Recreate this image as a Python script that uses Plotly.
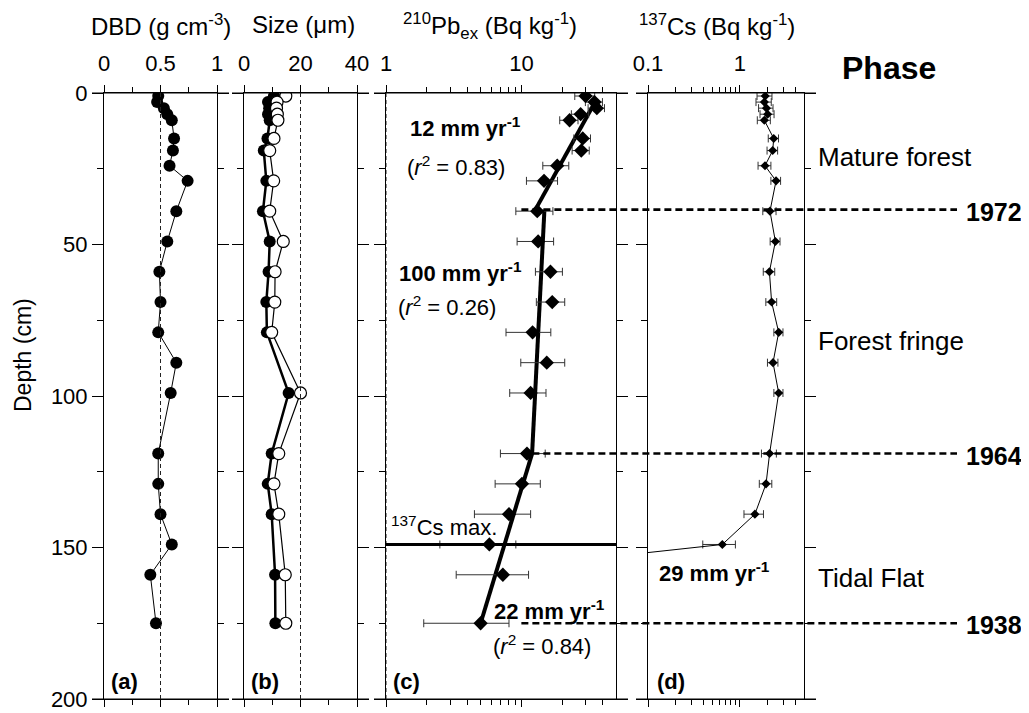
import numpy as np
import plotly.graph_objects as go

# ---------------- data ----------------
dbd_depth = [1, 3, 5, 7, 9, 15, 19, 24, 29, 39, 49, 59, 69, 79, 89, 99, 119, 129, 139, 149, 159, 175]
dbd_value = [0.48, 0.47, 0.53, 0.56, 0.60, 0.62, 0.61, 0.58, 0.74, 0.64, 0.56, 0.49, 0.50, 0.48, 0.64,
             0.59, 0.48, 0.48, 0.50, 0.60, 0.41, 0.46]

size_depth = [1, 3, 5, 7, 9, 15, 19, 29, 39, 49, 59, 69, 79, 99, 119, 129, 139, 159, 175]
size_filled = [10.6, 8.5, 8.9, 8.5, 9.1, 8.3, 7.0, 7.9, 6.7, 9.1, 8.7, 7.9, 8.1, 15.8, 9.8, 8.4, 9.8, 11.0, 11.1]
size_open = [14.8, 11.7, 11.5, 11.8, 12.0, 10.6, 9.1, 10.5, 9.1, 13.9, 11.0, 10.9, 9.8, 20.0, 12.3, 10.6, 12.3, 14.6, 14.8]

pb_depth = [1, 3, 5, 7, 9, 15, 19, 24, 29, 39, 49, 59, 69, 79, 89, 99, 119, 129, 139, 149, 159, 175]
pb_value = [29.8, 34.7, 36.1, 27.4, 22.7, 28.4, 27.7, 18.4, 14.7, 13.1, 13.3, 16.4, 16.9, 12.1, 15.4,
            11.7, 11.0, 10.1, 8.1, 5.8, 7.3, 5.0]
pb_error = [5, 5, 5, 4, 3.5, 4, 4, 4, 3.8, 4, 4, 3.7, 4, 4.4, 5.5, 3.5, 4, 3.7, 3.6, 3.3, 4, 3.1]

# regression segments for 210Pb_ex
fit1_depth, fit1_value = [3, 38.5], [35.0, 12.7]
fit2_depth, fit2_value = [38.5, 119], [14.8, 12.0]
fit3_depth, fit3_value = [119, 175], [12.0, 5.0]

cs_depth = [1, 3, 5, 7, 9, 15, 19, 24, 29, 39, 49, 59, 69, 79, 89, 99, 119, 129, 139, 149, 160]
cs_value = [1.89, 1.85, 1.95, 2.01, 1.85, 2.34, 2.28, 1.88, 2.48, 2.13, 2.44, 2.10, 2.22, 2.65, 2.30,
            2.65, 2.11, 1.93, 1.46, 0.645, 0.0003]
cs_error = [0.35, 0.35, 0.35, 0.35, 0.3, 0.3, 0.3, 0.3, 0.3, 0.35, 0.3, 0.3, 0.3, 0.3, 0.3,
            0.3, 0.39, 0.3, 0.35, 0.25, 0]

cs_max_depth = 149
date_depths = [38.5, 119, 175]
date_labels = ["1972", "1964", "1938"]
phase_labels = ["Mature forest", "Forest fringe", "Tidal Flat"]
phase_depths = [21, 82, 160]

ref_a, ref_b, ref_c, ref_d = 0.5, 20, 10, 1

# ---------------- layout geometry (window pixels) ----------------
OFF = 8                      # page body margin
W, H = 1029 - OFF, 713 - OFF  # figure size
TOP, BOT = 93, 699            # window y of depth 0 / depth 200
FONT = "Liberation Sans, Arial, sans-serif"
panels = [(104, 217), (244, 357), (386, 616), (648, 804)]


def px(x):
    return (x - OFF) / W


def py(y):
    return (BOT - y) / (BOT - TOP)


fig = go.Figure()

# (a) DBD
fig.add_trace(go.Scatter(x=dbd_value, y=dbd_depth, mode="lines+markers", xaxis="x", yaxis="y",
                         line=dict(color="black", width=1),
                         marker=dict(symbol="circle", size=12, color="black")))
# (b) grain size
fig.add_trace(go.Scatter(x=size_filled, y=size_depth, mode="lines+markers", xaxis="x2", yaxis="y2",
                         line=dict(color="black", width=2.5),
                         marker=dict(symbol="circle", size=12, color="black")))
fig.add_trace(go.Scatter(x=size_open, y=size_depth, mode="lines+markers", xaxis="x2", yaxis="y2",
                         line=dict(color="black", width=1.2),
                         marker=dict(symbol="circle", size=12, color="white",
                                     line=dict(color="black", width=1.2))))
# (c) 210Pb
for fd, fv in [(fit1_depth, fit1_value), (fit2_depth, fit2_value), (fit3_depth, fit3_value)]:
    fig.add_trace(go.Scatter(x=fv, y=fd, mode="lines", xaxis="x3", yaxis="y3",
                             line=dict(color="black", width=4)))
fig.add_trace(go.Scatter(x=pb_value, y=pb_depth, mode="markers", xaxis="x3", yaxis="y3",
                         marker=dict(symbol="diamond", size=11, color="black"),
                         error_x=dict(type="data", array=pb_error, color="#333333", thickness=1, width=4)))
# (d) 137Cs
fig.add_trace(go.Scatter(x=cs_value, y=cs_depth, mode="lines+markers", xaxis="x4", yaxis="y4",
                         line=dict(color="black", width=1),
                         marker=dict(symbol="diamond", size=7, color="black"),
                         error_x=dict(type="data", array=cs_error, color="#333333", thickness=1, width=4)))

tickfont = dict(family=FONT, size=22, color="black")


def xax(i, rng, tickvals, ticktext, minor_vals, log=False):
    d = dict(domain=[px(panels[i][0]), px(panels[i][1])], range=rng, side="top",
             anchor="y" if i == 0 else "y%d" % (i + 1), automargin=False,
             showline=True, linecolor="black", linewidth=1, mirror="ticks",
             showgrid=False, zeroline=False, ticks="outside", ticklen=7, tickwidth=1,
             tickcolor="black", tickvals=tickvals, ticktext=ticktext, tickfont=tickfont,
             ticklabelstandoff=5,
             minor=dict(tickvals=minor_vals, ticks="outside", ticklen=5, tickcolor="black",
                        tickwidth=1, showgrid=False))
    if log:
        d["type"] = "log"
    return d


def yax(i):
    return dict(domain=[0, 1], range=[200, 0], anchor="x" if i == 0 else "x%d" % (i + 1),
                automargin=False,
                showline=True, linecolor="black", linewidth=1, mirror="ticks",
                showgrid=False, zeroline=False, ticks="outside", ticklen=11, tickwidth=1,
                tickcolor="black", tickvals=[0, 50, 100, 150, 200], tickfont=tickfont,
                showticklabels=(i == 0),
                minor=dict(tickvals=[25, 75, 125, 175], ticks="outside", ticklen=6,
                           tickcolor="black", tickwidth=1, showgrid=False))


layout = dict(
    template="none",
    width=W, height=H, margin=dict(l=0, r=0, t=TOP - OFF, b=H - (BOT - OFF), autoexpand=False),
    plot_bgcolor="white", paper_bgcolor="white", showlegend=False,
    font=dict(family=FONT, size=22, color="black"),
    xaxis=xax(0, [0, 1], [0, 0.5, 1], ["0", "0.5", "1"], [0.25, 0.75]),
    xaxis2=xax(1, [0, 40], [0, 20, 40], ["0", "20", "40"], [10, 30]),
    xaxis3=xax(2, [0, np.log10(50)], [1, 10], ["1", "10"],
               [2, 3, 4, 5, 6, 7, 8, 9, 20, 30, 40], log=True),
    xaxis4=xax(3, [-1, np.log10(5)], [0.1, 1], ["0.1", "1"],
               [0.2, 0.3, 0.4, 0.5, 0.6, 0.7, 0.8, 0.9, 2, 3, 4], log=True),
    yaxis=yax(0), yaxis2=yax(1), yaxis3=yax(2), yaxis4=yax(3),
)
fig.update_layout(**layout)

shapes = []
# extended top/bottom axis lines
for (l, r) in panels:
    for yy in (0, 1):
        shapes.append(dict(type="line", xref="paper", yref="paper", x0=px(l - 12), x1=px(r + 12),
                           y0=yy, y1=yy, line=dict(color="black", width=1)))
# dotted reference lines
for xr, yr, v in [("x", "y", ref_a), ("x2", "y2", ref_b), ("x3", "y3", np.log10(ref_c)),
                  ("x4", "y4", np.log10(ref_d))]:
    shapes.append(dict(type="line", xref=xr, yref=yr + " domain", x0=v, x1=v, y0=0, y1=1,
                       line=dict(color="#222222", width=1, dash="4px,3px")))
# 137Cs max line
shapes.append(dict(type="line", xref="x3 domain", yref="y3", x0=0, x1=1, y0=cs_max_depth, y1=cs_max_depth,
                   line=dict(color="black", width=3)))
# date lines
c_left, c_right = panels[2]
x_start = c_left + (np.log10(ref_c) - 0) / np.log10(50) * (c_right - c_left)
for d in date_depths:
    shapes.append(dict(type="line", xref="paper", yref="paper", x0=px(x_start), x1=px(957),
                       y0=1 - d / 200, y1=1 - d / 200,
                       line=dict(color="black", width=2.6, dash="7px,4px")))
fig.update_layout(shapes=shapes)


def ann(text, x, y, size=22, bold=False, xanchor="left", angle=0):
    if bold:
        text = "<b>" + text + "</b>"
    fig.add_annotation(text=text, x=px(x), y=py(y), xref="paper", yref="paper", showarrow=False,
                       xanchor=xanchor, yanchor="middle", textangle=angle,
                       font=dict(family=FONT, size=size, color="black"))


# titles
ann("DBD (g cm<sup>-3</sup>)", 161, 25, size=24, xanchor="center")
ann("Size (μm)", 303, 25, size=24, xanchor="center")
ann("<sup>210</sup>Pb<sub>ex</sub> (Bq kg<sup>-1</sup>)", 490, 26, size=24, xanchor="center")
ann("<sup>137</sup>Cs (Bq kg<sup>-1</sup>)", 717, 25, size=24, xanchor="center")
ann("Depth (cm)", 23, 355, size=23, xanchor="center", angle=-90)
ann("Phase", 889, 68, size=32, bold=True, xanchor="center")

# panel letters
for lab, x in zip(["(a)", "(b)", "(c)", "(d)"], [109, 249, 391, 655]):
    ann(lab, x, 681, bold=True)

# rate annotations
ann("12 mm yr<sup>-1</sup>", 408, 127, bold=True)
ann("(<i>r</i><sup>2</sup> = 0.83)", 405, 166)
ann("100 mm yr<sup>-1</sup>", 397, 272, bold=True)
ann("(<i>r</i><sup>2</sup> = 0.26)", 396, 306)
ann("<sup>137</sup>Cs max.", 389, 526)
ann("22 mm yr<sup>-1</sup>", 492, 610, bold=True)
ann("(<i>r</i><sup>2</sup> = 0.84)", 491, 645)
ann("29 mm yr<sup>-1</sup>", 657, 572, bold=True)

# phases and dates
for lab, d in zip(phase_labels, phase_depths):
    ann(lab, 816, TOP + d * (BOT - TOP) / 200, size=26)
for lab, d in zip(date_labels, date_depths):
    ann(lab, 1024, TOP + d * (BOT - TOP) / 200 + 2, size=25, bold=True, xanchor="right")

fig.write_html("out.html")
